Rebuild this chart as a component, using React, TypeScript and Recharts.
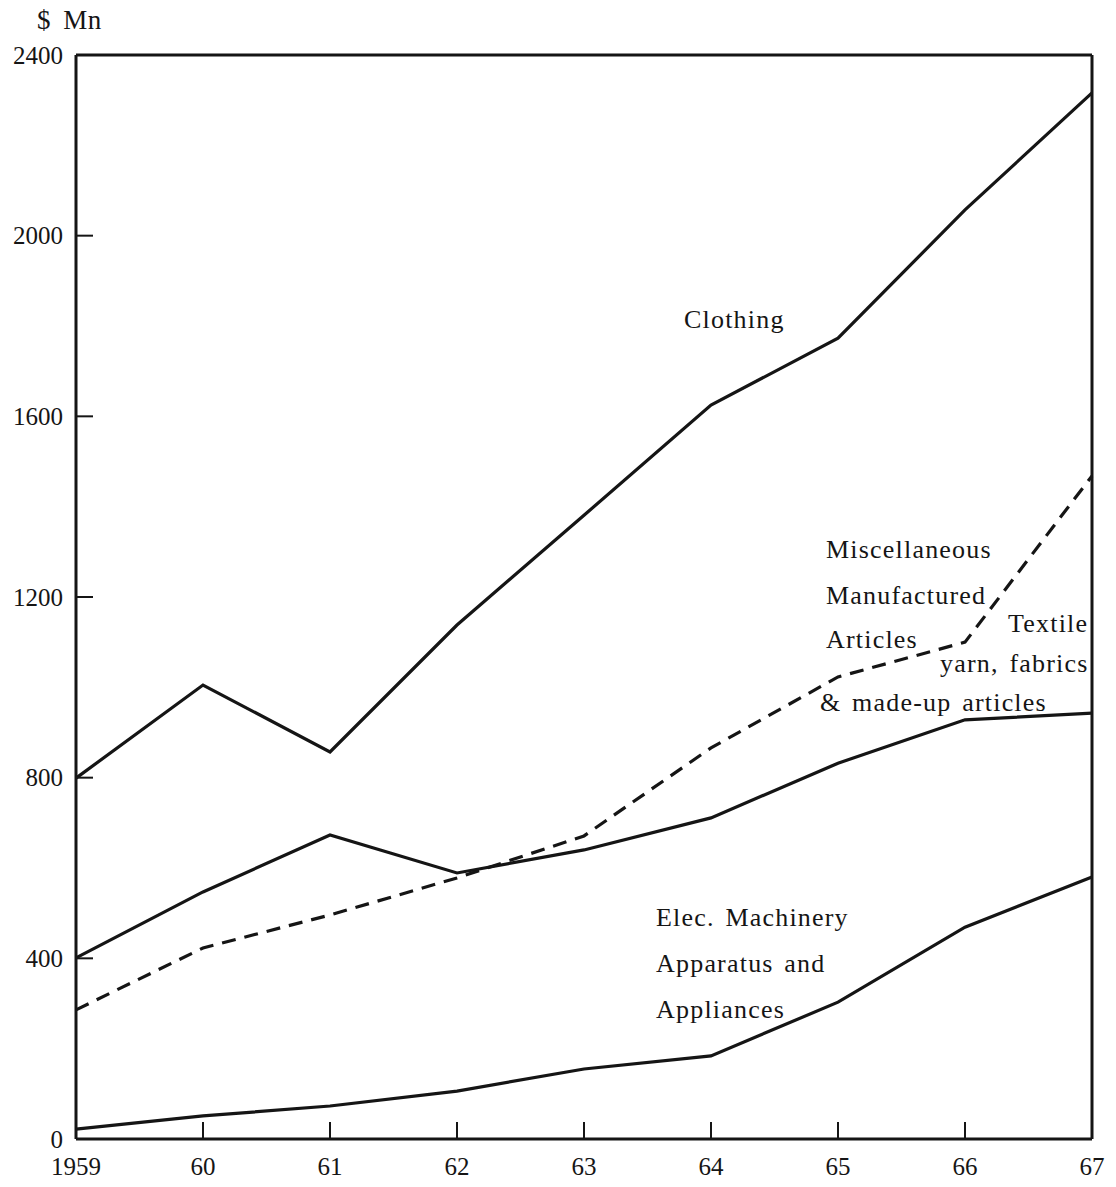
import { Line, LineChart, ReferenceLine, XAxis, YAxis } from 'recharts';

const YEARS = [1959, 1960, 1961, 1962, 1963, 1964, 1965, 1966, 1967];
const CLOTHING = [799, 1005, 857, 1138, 1381, 1625, 1773, 2057, 2316];
const TEXTILE = [401, 547, 673, 589, 640, 711, 832, 928, 943];
const MISC = [286, 423, 496, 578, 671, 866, 1023, 1100, 1468];
const ELEC = [22, 51, 73, 106, 155, 184, 303, 469, 580];
const Y_TICKS = [0, 400, 800, 1200, 1600, 2000, 2400];

const data = YEARS.map((year, i) => ({
  year,
  clothing: CLOTHING[i],
  textile: TEXTILE[i],
  misc: MISC[i],
  elec: ELEC[i],
}));

const INK = '#151515';
const FONT = '"Liberation Serif", "Times New Roman", serif';

const labelStyle = {
  position: 'absolute' as const,
  fontFamily: FONT,
  fontSize: 26,
  lineHeight: 1,
  letterSpacing: 1.2,
  wordSpacing: 3,
  color: INK,
  whiteSpace: 'nowrap' as const,
};

const NOTES = [
  { text: 'Clothing', x: 684, y: 307 },
  { text: 'Miscellaneous', x: 826, y: 537 },
  { text: 'Manufactured', x: 826, y: 583 },
  { text: 'Articles', x: 826, y: 627 },
  { text: 'Textile', x: 1008, y: 611 },
  { text: 'yarn, fabrics', x: 940, y: 651 },
  { text: '& made-up articles', x: 820, y: 690 },
  { text: 'Elec. Machinery', x: 656, y: 905 },
  { text: 'Apparatus and', x: 656, y: 951 },
  { text: 'Appliances', x: 656, y: 997 },
];

function YTick(props: any) {
  const { x, y, payload } = props;
  return (
    <g>
      <line x1={x + 13} x2={x + 30} y1={y} y2={y} stroke={INK} strokeWidth={2} />
      <text x={x} y={y} textAnchor="end" dominantBaseline="central" fontFamily={FONT} fontSize={25} fill={INK}>
        {payload.value}
      </text>
    </g>
  );
}

function XTick(props: any) {
  const { x, y, payload } = props;
  const v = payload.value;
  const inner = v > YEARS[0] && v < YEARS[YEARS.length - 1];
  return (
    <g>
      {inner && <line x1={x} x2={x} y1={y - 28} y2={y - 45} stroke={INK} strokeWidth={2} />}
      <text x={x} y={y - 1} textAnchor="middle" dominantBaseline="central" fontFamily={FONT} fontSize={25} fill={INK}>
        {v === YEARS[0] ? String(v) : String(v).slice(2)}
      </text>
    </g>
  );
}

export default function App() {
  return (
    <div style={{ position: 'absolute', left: 0, top: 0, width: 1116, height: 1187, background: '#fff' }}>
      <LineChart width={1116} height={1187} data={data} margin={{ top: 55, right: 24, left: 16, bottom: 8 }}>
        <XAxis
          dataKey="year"
          type="number"
          domain={[1959, 1967]}
          ticks={YEARS}
          height={40}
          tickSize={0}
          tickMargin={28}
          tick={<XTick />}
          axisLine={{ stroke: INK, strokeWidth: 3 }}
          tickLine={false}
        />
        <YAxis
          domain={[0, 2400]}
          ticks={Y_TICKS}
          width={60}
          tickSize={0}
          tickMargin={13}
          tick={<YTick />}
          axisLine={{ stroke: INK, strokeWidth: 3 }}
          tickLine={false}
          interval={0}
        />
        <ReferenceLine y={2400} stroke={INK} strokeWidth={3} />
        <ReferenceLine x={1967} stroke={INK} strokeWidth={3} />
        <Line dataKey="clothing" stroke={INK} strokeWidth={3.2} dot={false} isAnimationActive={false} />
        <Line dataKey="textile" stroke={INK} strokeWidth={3.2} dot={false} isAnimationActive={false} />
        <Line dataKey="misc" stroke={INK} strokeWidth={3.2} strokeDasharray="14 9" dot={false} isAnimationActive={false} />
        <Line dataKey="elec" stroke={INK} strokeWidth={3.2} dot={false} isAnimationActive={false} />
      </LineChart>
      <div style={{ ...labelStyle, left: 37, top: 7, fontSize: 27, letterSpacing: 0.5, wordSpacing: 5 }}>$ Mn</div>
      {NOTES.map((n) => (
        <div key={n.text} style={{ ...labelStyle, left: n.x, top: n.y }}>
          {n.text}
        </div>
      ))}
    </div>
  );
}
